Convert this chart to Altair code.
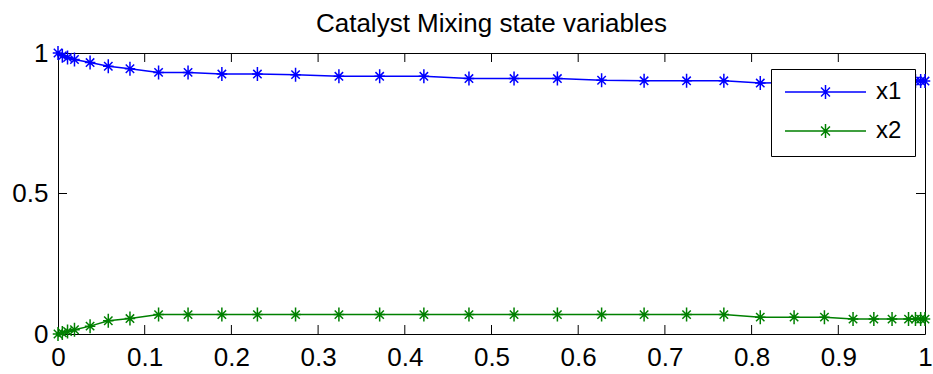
import altair as alt
import pandas as pd

# ---- data ----
t = [0.0, 0.005, 0.011, 0.019, 0.037, 0.058, 0.083, 0.116, 0.150, 0.189, 0.230,
     0.274, 0.324, 0.371, 0.422, 0.474, 0.526, 0.576, 0.627, 0.676, 0.725, 0.768,
     0.810, 0.849, 0.884, 0.917, 0.941, 0.962, 0.981, 0.989, 0.995, 1.0]
x1 = [1.0, 0.99, 0.984, 0.977, 0.966, 0.953, 0.944, 0.931, 0.931, 0.925, 0.925,
      0.923, 0.917, 0.917, 0.917, 0.909, 0.909, 0.909, 0.903, 0.901, 0.901, 0.901,
      0.893, 0.895, 0.895, 0.897, 0.897, 0.9, 0.9, 0.9, 0.9, 0.9]
x2 = [0.0, 0.004, 0.009, 0.015, 0.028, 0.047, 0.055, 0.069, 0.069, 0.069, 0.069,
      0.069, 0.069, 0.069, 0.069, 0.069, 0.069, 0.069, 0.069, 0.069, 0.069, 0.069,
      0.060, 0.060, 0.060, 0.053, 0.053, 0.053, 0.053, 0.053, 0.053, 0.053]
series = ["x1", "x2"]
colors = ["#0000ff", "#008000"]
x_tick_values = [0, 0.1, 0.2, 0.3, 0.4, 0.5, 0.6, 0.7, 0.8, 0.9, 1]
y_tick_values = [0, 0.5, 1]
inner_x_ticks = [0.1, 0.2, 0.3, 0.4, 0.5, 0.6, 0.7, 0.8, 0.9]
inner_y_ticks = [0.5]
title_text = "Catalyst Mixing state variables"

df = pd.DataFrame({
    "t": t + t,
    "value": x1 + x2,
    "series": [series[0]] * len(t) + [series[1]] * len(t),
})
xt = pd.DataFrame({"t": inner_x_ticks})
yt = pd.DataFrame({"value": inner_y_ticks})

FONT = "Liberation Sans"
W, H = 867, 281
STAR = "M0,-1V1M-0.75,0H0.75M-0.6,-0.6L0.6,0.6M-0.6,0.6L0.6,-0.6"
LEG = ("M-1,0H1M0,-0.17V0.17M-0.13,0H0.13"
       "M-0.11,-0.11L0.11,0.11M-0.11,0.11L0.11,-0.11")

xscale = alt.Scale(domain=[0, 1], nice=False, zero=False)
yscale = alt.Scale(domain=[0, 1], nice=False, zero=False)
xaxis = alt.Axis(values=x_tick_values, format="~g", title=None, ticks=False,
                 grid=False, domain=False, labelFlush=False, labelOverlap=False,
                 labelPadding=10, labelFontSize=26, labelFont=FONT, labelColor="black")
yaxis = alt.Axis(values=y_tick_values, format="~g", title=None, ticks=False,
                 grid=False, domain=False, labelFlush=False, labelOverlap=False,
                 labelPadding=10, labelFontSize=26, labelFont=FONT, labelColor="black")
X = alt.X("t:Q", scale=xscale, axis=xaxis)
Y = alt.Y("value:Q", scale=yscale, axis=yaxis)

base = alt.Chart(df).encode(
    x=X, y=Y,
    color=alt.Color("series:N", scale=alt.Scale(domain=series, range=colors),
                    legend=alt.Legend(title=None, orient="none", legendX=713, legendY=16,
                                      symbolType=LEG, symbolSize=6561,
                                      symbolStrokeWidth=1.5, symbolFillColor="transparent",
                                      clipHeight=20, rowPadding=15, padding=13,
                                      strokeColor="black", fillColor="white",
                                      labelFontSize=24, labelFont=FONT, labelColor="black",
                                      labelOffset=9, symbolOffset=0, cornerRadius=0)),
)

line = base.mark_line(strokeWidth=1.5)
pts = base.mark_point(shape=STAR, size=196, filled=False, strokeWidth=1.5, opacity=1)

tick_bottom = alt.Chart(xt).mark_rule(color="black", strokeWidth=1).encode(
    x=X, y=alt.value(H), y2=alt.value(H - 9))
tick_top = alt.Chart(xt).mark_rule(color="black", strokeWidth=1).encode(
    x=X, y=alt.value(0), y2=alt.value(9))
tick_left = alt.Chart(yt).mark_rule(color="black", strokeWidth=1).encode(
    y=Y, x=alt.value(0), x2=alt.value(9))
tick_right = alt.Chart(yt).mark_rule(color="black", strokeWidth=1).encode(
    y=Y, x=alt.value(W), x2=alt.value(W - 9))

chart = alt.layer(line, pts, tick_bottom, tick_top, tick_left, tick_right).properties(
    width=W, height=H,
    padding={"left": 58, "top": 53, "right": 8, "bottom": 40},
    autosize=alt.AutoSizeParams(type="none"),
    title=alt.TitleParams(title_text, fontSize=26, font=FONT, fontWeight="normal",
                          color="black", anchor="middle", frame="group",
                          baseline="alphabetic", offset=-18),
).configure(
    background="white",
    view=alt.ViewConfig(stroke="black", strokeWidth=1),
)

chart.save("out.html", embed_options={"renderer": "svg", "actions": False})
